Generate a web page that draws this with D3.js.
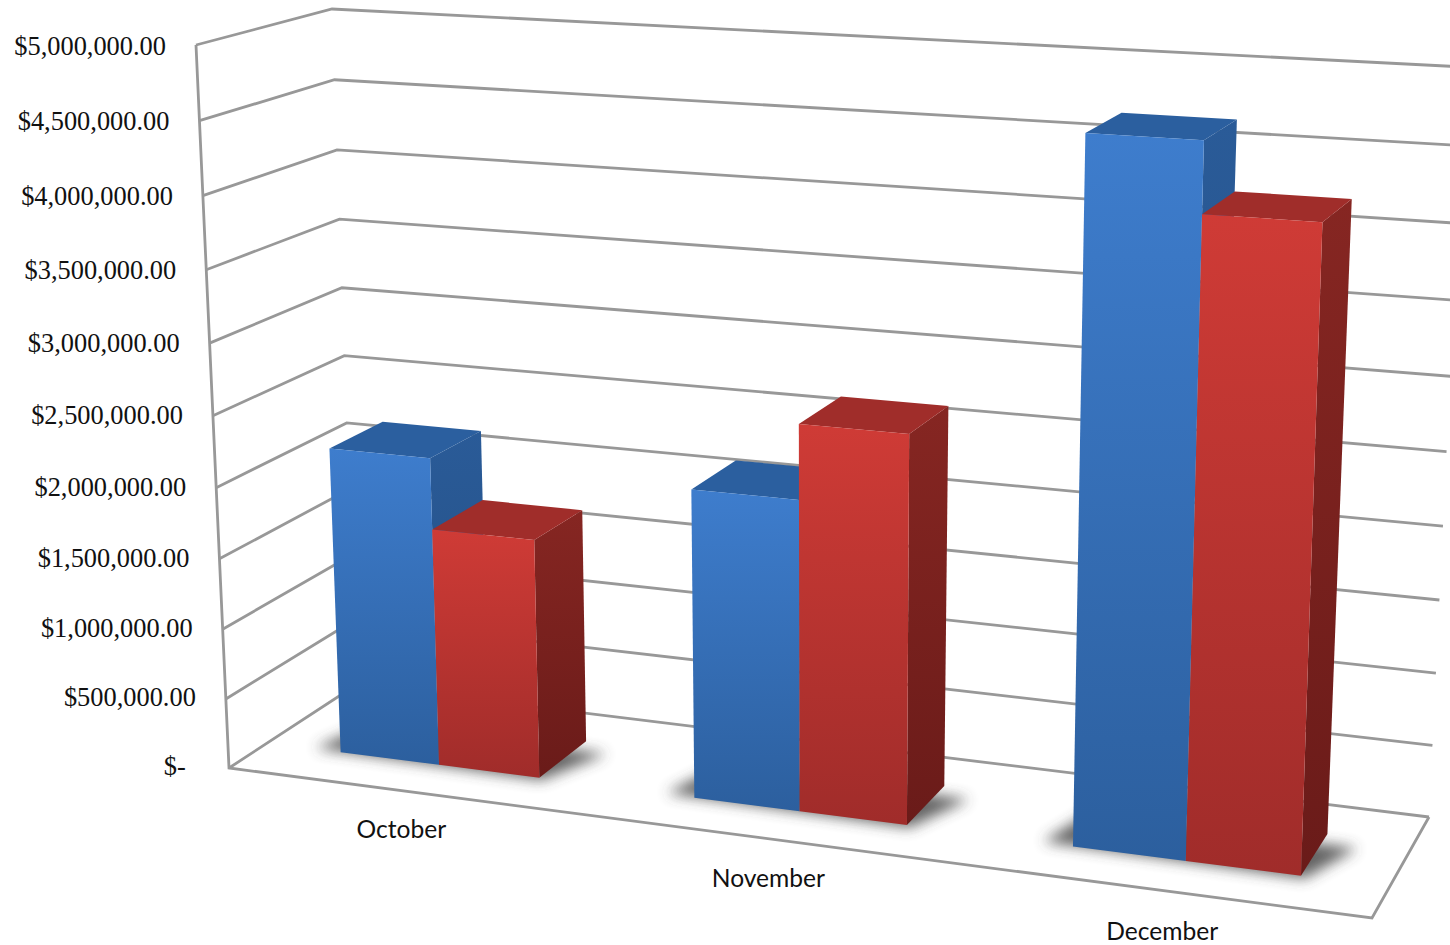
<!DOCTYPE html>
<html>
<head>
<meta charset="utf-8">
<script src="https://cdn.jsdelivr.net/npm/d3@7"></script>
<style>
    html, body { margin: 0; padding: 0; background: #fff; overflow: hidden; }
    svg { display: block; }
    .tick-label { font-family: "Liberation Serif", serif; font-size: 26.4px; fill: #111; white-space: pre; }
    .cat-label { font-family: Lato, sans-serif; font-size: 24.6px; fill: #111; }
</style>
</head>
<body>
<svg width="1450" height="945"></svg>
<script>
// DATA
var categories = ["October", "November", "December"];
var seriesNames = ["blue", "red"];
var blueValues = [2190000, 2150000, 4680000];
var redValues = [1690000, 2660000, 4220000];
var tickValues = [0, 500000, 1000000, 1500000, 2000000, 2500000, 3000000, 3500000, 4000000, 4500000, 5000000];
var tickLabels = ["$-  ", "$500,000.00", "$1,000,000.00", "$1,500,000.00", "$2,000,000.00", "$2,500,000.00",
    "$3,000,000.00", "$3,500,000.00", "$4,000,000.00", "$4,500,000.00", "$5,000,000.00"];

var svg = d3.select("svg");

// box corners on screen, named by [u, v, z] = left/right, bottom/top, front/back
var corners = {
    "000": [229, 768], "100": [1372, 918], "001": [356, 685], "101": [1429, 817],
    "010": [196, 45], "110": [1400, 115], "011": [332, 9], "111": [1465, 67]
};
var rightWeight = 0.90, topWeight = 0.95, backWeight = 1.069;

// perspective map from the unit box to the screen
function project(u, v, z) {
    var sx = 0, sy = 0, sw = 0;
    [0, 1].forEach(function (a) {
        [0, 1].forEach(function (b) {
            [0, 1].forEach(function (c) {
                var w = (a ? u : 1 - u) * (b ? v : 1 - v) * (c ? z : 1 - z)
                    * (1 + a * (rightWeight - 1) + c * (backWeight - 1)) * (b ? topWeight : 1);
                var p = corners["" + a + b + c];
                sx += w * p[0];
                sy += w * p[1];
                sw += w;
            });
        });
    });
    return [sx / sw, sy / sw];
}

var xScale = d3.scaleBand().domain(categories).range([0, 1]).paddingInner(0.43).paddingOuter(0.215);
var seriesScale = d3.scaleBand().domain(seriesNames).range([0, xScale.bandwidth()]);
var yScale = d3.scaleLinear().domain([0, 5000000]).range([0, 1]);
var barFront = 0.29, barBack = 0.71;

var line = d3.line();
function face(points) {
    return line(points) + "Z";
}

// gradients
var defs = svg.append("defs");
function addGradient(id, top, bottom) {
    var g = defs.append("linearGradient").attr("id", id)
        .attr("x1", 0).attr("y1", 0).attr("x2", 0).attr("y2", 1);
    g.append("stop").attr("offset", "0%").attr("stop-color", top);
    g.append("stop").attr("offset", "100%").attr("stop-color", bottom);
}
addGradient("blue-front", "#3e7dcd", "#2c5f9e");
addGradient("red-front", "#cf3b36", "#a02c2a");
addGradient("blue-side", "#2a5b98", "#234d80");
addGradient("red-side", "#862622", "#6a1b19");
var topColors = { blue: "#2b5f9f", red: "#a02d2a" };

defs.append("filter").attr("id", "soft")
    .attr("x", "-30%").attr("y", "-60%").attr("width", "160%").attr("height", "220%")
    .append("feGaussianBlur").attr("stdDeviation", 7);

// WALLS
var grid = svg.append("g")
    .attr("fill", "none")
    .attr("stroke", "#989898")
    .attr("stroke-width", 2.8)
    .attr("stroke-linejoin", "miter");

tickValues.forEach(function (d) {
    var v = yScale(d);
    grid.append("path").attr("d", line([project(0, v, 0), project(0, v, 1), project(1, v, 1)]));
});
grid.append("path").attr("d", line([project(0, 1, 0), project(0, 0, 0), project(1, 0, 0), project(1, 0, 1)]));

// axis labels
svg.selectAll(".tick-label")
    .data(tickValues)
    .enter().append("text")
    .attr("class", "tick-label")
    .attr("text-anchor", "end")
    .attr("dominant-baseline", "middle")
    .attr("x", function (d) { return project(0, yScale(d), 0)[0] - 30; })
    .attr("y", function (d) { return project(0, yScale(d), 0)[1] + 1 + 3 * yScale(d); })
    .text(function (d, i) { return tickLabels[i]; });

svg.selectAll(".cat-label")
    .data(categories)
    .enter().append("text")
    .attr("class", "cat-label")
    .attr("text-anchor", "middle")
    .attr("dominant-baseline", "middle")
    .attr("x", function (d) { return project(xScale(d) + xScale.bandwidth() / 2, 0, 0)[0] - 2; })
    .attr("y", function (d, i) { return project(xScale(d) + xScale.bandwidth() / 2, 0, 0)[1] + 41 + i; })
    .text(function (d) { return d; });

// BARS
categories.forEach(function (cat, i) {
    var left = xScale(cat), right = left + xScale.bandwidth();

    svg.append("path")
        .attr("d", face([
            project(left - 0.026, 0, barFront + 0.01), project(right + 0.004, 0, barFront - 0.02),
            project(right + 0.03, 0, barBack - 0.1), project(left - 0.01, 0, barBack - 0.1)
        ]))
        .attr("fill", "#3c3c3c")
        .attr("opacity", 0.8)
        .attr("filter", "url(#soft)");

    seriesNames.forEach(function (name) {
        var value = name === "blue" ? blueValues[i] : redValues[i];
        var u0 = left + seriesScale(name), u1 = u0 + seriesScale.bandwidth(), v = yScale(value);

        var g = svg.append("g");
        g.append("path")
            .attr("d", face([project(u1, 0, barFront), project(u1, 0, barBack), project(u1, v, barBack), project(u1, v, barFront)]))
            .attr("fill", "url(#" + name + "-side)");
        g.append("path")
            .attr("d", face([project(u0, v, barFront), project(u1, v, barFront), project(u1, v, barBack), project(u0, v, barBack)]))
            .attr("fill", topColors[name]);
        g.append("path")
            .attr("d", face([project(u0, 0, barFront), project(u1, 0, barFront), project(u1, v, barFront), project(u0, v, barFront)]))
            .attr("fill", "url(#" + name + "-front)");
    });
});
</script>
</body>
</html>
